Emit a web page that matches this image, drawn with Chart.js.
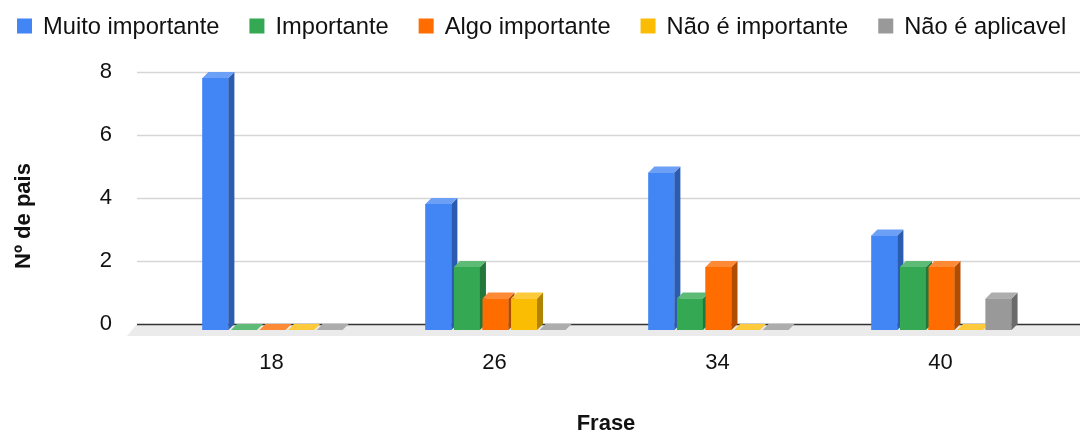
<!DOCTYPE html>
<html>
<head>
<meta charset="utf-8">
<script src="https://cdn.jsdelivr.net/npm/chart.js@4"></script>
<style>
  html, body { margin: 0; padding: 0; background: #fff; }
  #wrap { width: 1080px; height: 435px; }
</style>
</head>
<body>
<div id="wrap"><canvas id="myChart"></canvas></div>
<script>
// data
const labels = ['18', '26', '34', '40'];
const seriesNames = ['Muito importante', 'Importante', 'Algo importante', 'Não é importante', 'Não é aplicavel'];
const muitoImportante = [8, 4, 5, 3];
const importante = [0, 2, 1, 2];
const algoImportante = [0, 1, 2, 2];
const naoImportante = [0, 1, 0, 0];
const naoAplicavel = [0, 0, 0, 1];
const yTicks = [0, 2, 4, 6, 8];

const FONT = "'Liberation Sans', Arial, sans-serif";
const TEXT = '#111111';

// front / top / side colours of each series
const colors = [
    { front: '#4285F4', top: '#6C9FF6', side: '#2C5CB0' },
    { front: '#34A853', top: '#5DBB76', side: '#23773A' },
    { front: '#FF6D01', top: '#FF8A36', side: '#B24C00' },
    { front: '#FBBC04', top: '#FCCA3A', side: '#AF8303' },
    { front: '#999999', top: '#ADADAD', side: '#6A6A6A' },
];
const DX = 6, DY = 6;

const ctx = document.getElementById('myChart');

const seriesData = [muitoImportante, importante, algoImportante, naoImportante, naoAplicavel];
const datasets = seriesData.map((values, i) => ({
    label: seriesNames[i],
    data: values,
    backgroundColor: colors[i].front,
    borderWidth: 0,
    clip: false
}));

// floor, grid lines, 3d faces of the bars, legend and y title
const bars3d = {
    id: 'bars3d',
    beforeDatasetsDraw(chart) {
        const c = chart.ctx;
        const y = chart.scales.y;
        const y0 = Math.round(y.getPixelForValue(0));
        c.save();
        c.fillStyle = '#ebebeb';
        c.beginPath();
        c.moveTo(137, y0);
        c.lineTo(1080, y0);
        c.lineTo(1080, y0 + 12);
        c.lineTo(127, y0 + 12);
        c.closePath();
        c.fill();
        yTicks.forEach(v => {
            const p = Math.round(y.getPixelForValue(v)) + 0.5;
            c.strokeStyle = v === 0 ? '#333333' : '#d6d6d6';
            c.lineWidth = 1.4;
            c.beginPath();
            c.moveTo(137, p);
            c.lineTo(1080, p);
            c.stroke();
        });
        c.restore();
        c.save();
        c.translate(1, DY);
    },
    afterDatasetsDraw(chart) {
        const c = chart.ctx;
        // redraw every bar left to right so each one hides the side of the previous
        labels.forEach((lab, j) => {
            datasets.forEach((ds, i) => {
                const el = chart.getDatasetMeta(i).data[j];
                const col = colors[i];
                const { x, y, base, width } = el.getProps(['x', 'y', 'base', 'width'], true);
                const l = x - width / 2, r = x + width / 2;
                const top = Math.min(y, base), bot = base;
                if (bot - top > 0.5) {
                    c.fillStyle = col.front;
                    c.fillRect(l, top, width, bot - top);
                    c.fillStyle = col.side;
                    c.beginPath();
                    c.moveTo(r, top);
                    c.lineTo(r + DX, top - DY);
                    c.lineTo(r + DX, bot - DY);
                    c.lineTo(r, bot);
                    c.closePath();
                    c.fill();
                }
                c.fillStyle = col.top;
                c.beginPath();
                c.moveTo(l, top);
                c.lineTo(r, top);
                c.lineTo(r + DX, top - DY);
                c.lineTo(l + DX, top - DY);
                c.closePath();
                c.fill();
            });
        });
        c.restore();
    },
    afterDraw(chart) {
        const c = chart.ctx;
        // y axis title
        c.save();
        c.translate(24, 216);
        c.rotate(-Math.PI / 2);
        c.font = 'bold 22px ' + FONT;
        c.fillStyle = TEXT;
        c.textAlign = 'center';
        c.textBaseline = 'middle';
        c.fillText('Nº de pais', 0, 0);
        c.restore();

        // legend
        c.save();
        c.font = '23.7px ' + FONT;
        c.textBaseline = 'middle';
        c.textAlign = 'left';
        const box = 15, gapText = 11, gapItem = 30, ly = 26;
        const widths = seriesNames.map(n => box + gapText + c.measureText(n).width);
        const total = widths.reduce((a, b) => a + b, 0) + gapItem * (widths.length - 1);
        let lx = Math.round((chart.width - total) / 2) + 2;
        seriesNames.forEach((n, i) => {
            c.fillStyle = colors[i].front;
            c.fillRect(lx, ly - box / 2, box, box);
            c.fillStyle = TEXT;
            c.fillText(n, lx + box + gapText, ly + 1);
            lx += widths[i] + gapItem;
        });
        c.restore();
    }
};

const config = {
    type: 'bar',
    data: { labels: labels, datasets: datasets },
    options: {
        responsive: true,
        maintainAspectRatio: false,
        animation: false,
        layout: { padding: { left: 0, right: 28, top: 72, bottom: 0 } },
        categoryPercentage: 0.64,
        barPercentage: 0.91,
        scales: {
            x: {
                grid: { display: false },
                border: { display: false },
                ticks: { color: TEXT, font: { family: FONT, size: 22 }, padding: 18 },
                title: {
                    display: true,
                    text: 'Frase',
                    color: TEXT,
                    font: { family: FONT, size: 22, weight: 'bold', lineHeight: 1 },
                    padding: { top: 0, bottom: 0 }
                },
                afterFit: s => { s.height = 111; }
            },
            y: {
                min: 0,
                max: 8,
                grid: { display: false },
                border: { display: false },
                ticks: { stepSize: 2, color: TEXT, font: { family: FONT, size: 22 }, padding: 40 },
                afterFit: s => { s.width = 160; }
            }
        },
        plugins: {
            legend: { display: false },
            tooltip: { enabled: false }
        }
    },
    plugins: [bars3d]
};

new Chart(ctx, config);
</script>
</body>
</html>
